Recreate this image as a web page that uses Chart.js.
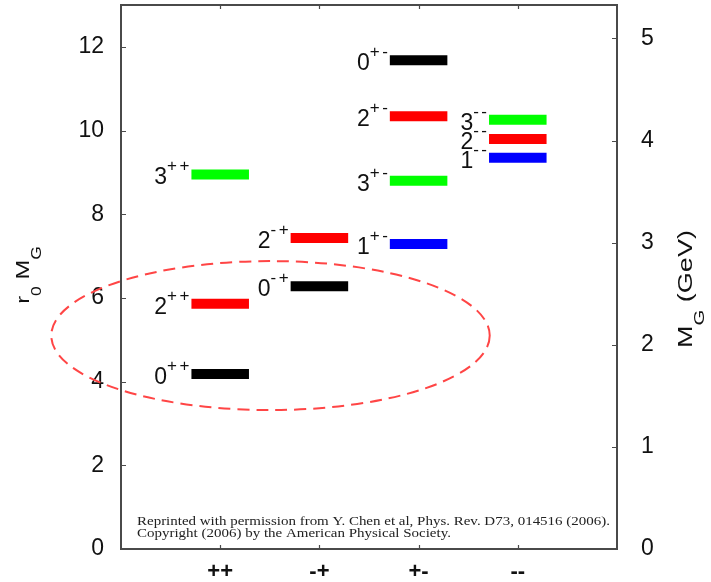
<!DOCTYPE html>
<html>
<head>
<meta charset="utf-8">
<script src="https://cdn.jsdelivr.net/npm/chart.js@4.4.1/dist/chart.umd.min.js"></script>
<style>
  html,body{margin:0;padding:0;background:#fff}
  canvas{display:block}
</style>
</head>
<body>
<canvas id="glue" width="711" height="582"></canvas>
<script>
// PC channels along x (placed at x = 1..4)
const CATS = ['++', '-+', '+-', '--'];

// glueball levels: channel index, spin J, r0*M_G, colour
const LVL_CAT = [0, 0, 0, 1, 1, 2, 2, 2, 2, 3, 3, 3];
const LVL_J   = ['0', '2', '3', '0', '2', '0', '2', '3', '1', '3', '2', '1'];
const LVL_VAL = [4.18, 5.86, 8.95, 6.28, 7.43, 11.68, 10.34, 8.80, 7.29, 10.26, 9.80, 9.35];
const LVL_COL = ['#000000', '#ff0000', '#00ff00', '#000000', '#ff0000',
                 '#000000', '#ff0000', '#00ff00', '#0000ff',
                 '#00ff00', '#ff0000', '#0000ff'];

const Y_MAX = 13;        // r0 M_G
const R0 = 2.44;         // r0 in GeV^-1, right axis = left / R0
const HALF_W = 0.29;     // half length of a level bar (x units)

// dashed ring round the low-lying states (data units)
const RING = {x: 1.507, y: 5.10, rx: 2.21, ry: 1.78};

const NOTE = [
  'Reprinted with permission from Y. Chen et al, Phys. Rev. D73, 014516 (2006).',
  'Copyright (2006) by the American Physical Society.'
];

const SANS = '"Liberation Sans", Arial, Helvetica, sans-serif';
const FRAME = '#4a4a4a';
const INK = '#111111';

const datasets = LVL_VAL.map((v, i) => {
  const c = LVL_CAT[i] + 1;
  return {
    label: LVL_J[i] + CATS[LVL_CAT[i]],
    data: [{x: c - HALF_W, y: v}, {x: c + HALF_W, y: v}],
    borderColor: LVL_COL[i],
    borderWidth: 10,
    borderCapStyle: 'butt',
    pointRadius: 0,
    fill: false
  };
});

// rotated axis title with lowered subscripts, parts = [[text, isSub], ...]
function drawTitle(ctx, parts, cx, cy, size, subSize, drop, stretch){
  ctx.save();
  ctx.translate(cx, cy);
  ctx.rotate(-Math.PI / 2);
  ctx.scale(stretch, 1);
  const fonts = parts.map(p => (p[1] ? subSize : size) + 'px ' + SANS);
  let w = 0;
  parts.forEach((p, i) => { ctx.font = fonts[i]; w += ctx.measureText(p[0]).width; });
  let x = -w / 2;
  parts.forEach((p, i) => {
    ctx.font = fonts[i];
    ctx.fillText(p[0], x, p[1] ? drop : 0);
    x += ctx.measureText(p[0]).width;
  });
  ctx.restore();
}

const decor = {
  id: 'decor',
  afterDatasetsDraw(chart){
    const {ctx, chartArea: a, scales} = chart;
    const xs = scales.x, ys = scales.y, gs = scales.y2;
    ctx.save();

    // frame + inward ticks
    ctx.strokeStyle = FRAME;
    ctx.lineWidth = 2;
    ctx.strokeRect(a.left, a.top, a.right - a.left, a.bottom - a.top);
    ctx.lineWidth = 1.2;
    ctx.beginPath();
    ys.ticks.forEach(t => {
      const py = Math.round(ys.getPixelForValue(t.value)) + 0.5;
      ctx.moveTo(a.left, py); ctx.lineTo(a.left + 5, py);
    });
    gs.ticks.forEach(t => {
      const py = Math.round(gs.getPixelForValue(t.value)) + 0.5;
      ctx.moveTo(a.right, py); ctx.lineTo(a.right - 5, py);
    });
    xs.ticks.forEach(t => {
      const px = Math.round(xs.getPixelForValue(t.value)) + 0.5;
      ctx.moveTo(px, a.bottom); ctx.lineTo(px, a.bottom - 4);
      ctx.moveTo(px, a.top); ctx.lineTo(px, a.top + 4);
    });
    ctx.stroke();

    // J^PC labels left of each bar
    ctx.fillStyle = INK;
    ctx.textBaseline = 'alphabetic';
    ctx.textAlign = 'left';
    LVL_VAL.forEach((v, i) => {
      const c = LVL_CAT[i] + 1;
      const left = xs.getPixelForValue(c - HALF_W);
      const py = ys.getPixelForValue(v);
      const sup = CATS[LVL_CAT[i]];
      ctx.font = '17px ' + SANS;
      const gap = 2.5;
      const adv = [...sup].map(ch => ctx.measureText(ch).width);
      const supW = adv.reduce((s, w) => s + w, 0) + gap * (sup.length - 1);
      let sx = left - 2 - supW;
      const supStart = sx;
      [...sup].forEach((ch, k) => { ctx.fillText(ch, sx, py - 3); sx += adv[k] + gap; });
      ctx.font = '23px ' + SANS;
      ctx.textAlign = 'right';
      ctx.fillText(LVL_J[i], supStart, py + 10);
      ctx.textAlign = 'left';
    });

    // reprint note, fitted to the line length
    ctx.font = '13.5px "Liberation Serif", "Times New Roman", serif';
    ctx.fillStyle = '#222';
    const nw = ctx.measureText(NOTE[0]).width;
    const sx = 473 / nw;
    NOTE.forEach((s, k) => {
      ctx.save();
      ctx.translate(a.left + 16, 525 + 12 * k);
      ctx.scale(sx, 1);
      ctx.fillText(s, 0, 0);
      ctx.restore();
    });

    // axis titles
    ctx.fillStyle = INK;
    drawTitle(ctx, [['r', false], ['0', true], [' M', false], ['G', true]], 29, 275, 19, 14, 12, 1.25);
    drawTitle(ctx, [['M', false], ['G', true], [' (GeV)', false]], 692, 289, 20, 15, 12, 1.35);

    // dashed ring, allowed to run over the axis
    const cx = xs.getPixelForValue(RING.x), cy = ys.getPixelForValue(RING.y);
    const rx = xs.getPixelForValue(RING.x + RING.rx) - cx;
    const ry = cy - ys.getPixelForValue(RING.y + RING.ry);
    ctx.strokeStyle = '#ff4545';
    ctx.lineWidth = 2;
    ctx.setLineDash([12, 7]);
    ctx.beginPath();
    ctx.ellipse(cx, cy, rx, ry, 0, 0, Math.PI * 2);
    ctx.stroke();
    ctx.restore();
  }
};

const tickFont = {family: SANS, size: 23};

new Chart(document.getElementById('glue'), {
  type: 'line',
  data: {datasets},
  options: {
    responsive: false,
    animation: false,
    devicePixelRatio: 1,
    layout: {padding: {top: 5, left: 0, right: 0, bottom: 0}},
    plugins: {legend: {display: false}, tooltip: {enabled: false}},
    scales: {
      x: {
        type: 'linear', position: 'bottom', min: 0, max: 5,
        grid: {display: false, drawTicks: false}, border: {display: false},
        afterBuildTicks: s => { s.ticks = CATS.map((c, i) => ({value: i + 1})); },
        ticks: {
          callback: v => CATS[v - 1] ?? '',
          font: {family: SANS, size: 22, weight: 'bold'},
          color: INK, padding: 10, maxRotation: 0, autoSkip: false
        },
        afterFit: s => { s.height = 33; s.paddingLeft = 0; s.paddingRight = 0; }
      },
      y: {
        type: 'linear', position: 'left', min: 0, max: Y_MAX,
        grid: {display: false, drawTicks: false}, border: {display: false},
        ticks: {stepSize: 2, includeBounds: false, font: tickFont, color: INK, padding: 17},
        afterFit: s => { s.width = 121; s.paddingTop = 0; s.paddingBottom = 0; }
      },
      y2: {
        type: 'linear', position: 'right', min: 0, max: Y_MAX / R0,
        grid: {display: false, drawTicks: false}, border: {display: false},
        ticks: {stepSize: 1, includeBounds: false, font: tickFont, color: INK, padding: 24},
        afterFit: s => { s.width = 94; s.paddingTop = 0; s.paddingBottom = 0; }
      }
    }
  },
  plugins: [decor]
});
</script>
</body>
</html>
